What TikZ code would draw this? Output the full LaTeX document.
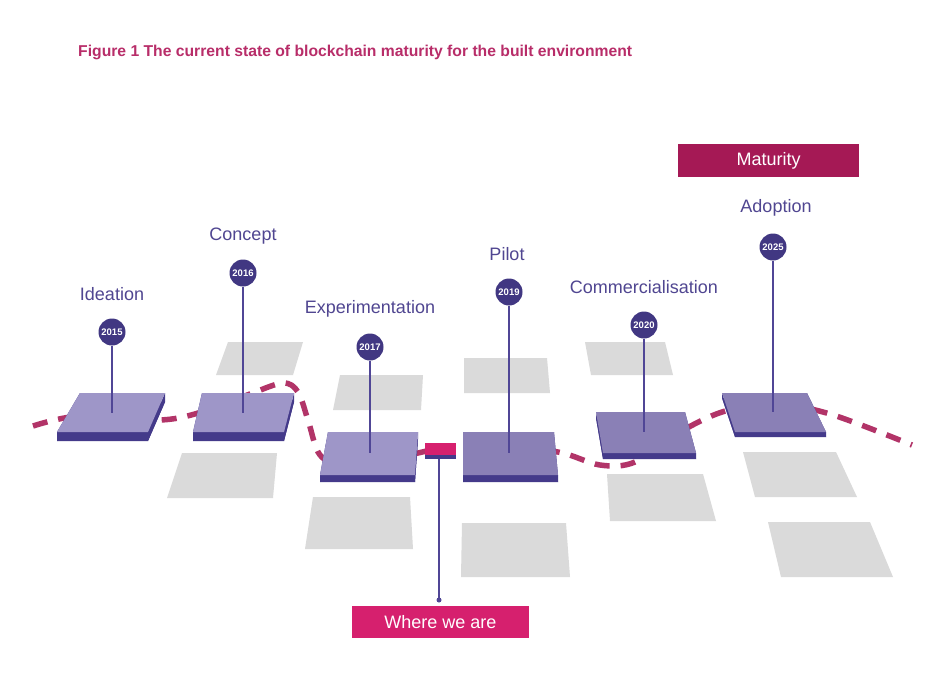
\documentclass[tikz,border=0pt]{standalone}
\usepackage{fontspec}
\setmainfont{Liberation Sans}
\definecolor{titlec}{RGB}{184,45,105}
\definecolor{labelc}{RGB}{80,70,145}
\definecolor{circc}{RGB}{65,55,130}
\definecolor{stemc}{RGB}{80,70,150}
\definecolor{ptopA}{RGB}{158,150,200}
\definecolor{ptopB}{RGB}{138,128,182}
\definecolor{pdark}{RGB}{68,58,138}
\definecolor{greyc}{RGB}{218,218,218}
\definecolor{curvec}{RGB}{178,52,104}
\definecolor{pinkc}{RGB}{214,32,110}
\definecolor{matc}{RGB}{165,25,85}
\newcommand{\myplat}[8]{%
  \fill[pdark] (#1,{#3+#7}) -- (#2,{#3+#7}) -- (#5,{#6+#7}) -- (#4,{#6+#7}) -- cycle;
  \fill[pdark] (#2,#3) -- (#2,{#3+#7}) -- (#5,{#6+#7}) -- (#5,#6) -- cycle;
  \fill[pdark] (#1,#3) -- (#1,{#3+#7}) -- (#4,{#6+#7}) -- (#4,#6) -- cycle;
  \fill[pdark] (#4,#6) -- (#5,#6) -- (#5,{#6+#7}) -- (#4,{#6+#7}) -- cycle;
  \fill[#8] (#1,#3) -- (#2,#3) -- (#5,#6) -- (#4,#6) -- cycle;}
\newcommand{\mygrey}[6]{\fill[greyc] (#1,#3) -- (#2,#3) -- (#5,#6) -- (#4,#6) -- cycle;}
\tikzset{
  stage/.style={text=labelc, font=\fontsize{18}{20}\selectfont, inner sep=0pt},
  year/.style={circle, fill=circc, minimum size=27pt, inner sep=0pt, text=white, font=\bfseries\fontsize{9.5}{10}\selectfont},
  stem/.style={draw=stemc, line width=1.5pt},
}
\begin{document}
\begin{tikzpicture}[x=1pt,y=-1pt]
\useasboundingbox (0,0) rectangle (931,681);
\fill[white] (0,0) rectangle (931,681);
% title
\node[anchor=west, text=titlec, inner sep=0pt, font=\bfseries\fontsize{15.7}{17}\selectfont] (title) at (78,52)
  {Figure 1 The current state of blockchain maturity for the built environment};
% grey tiles
\mygrey{228}{303}{342}{216}{293}{375}
\mygrey{182}{277}{453}{167}{273}{498}
\mygrey{340}{423}{375}{333}{421}{410}
\mygrey{313}{410}{497}{305}{413}{549}
\mygrey{464}{547}{358}{464}{550}{393}
\mygrey{462}{566}{523}{461}{570}{577}
\mygrey{585}{665}{342}{591}{673}{375}
\mygrey{607}{703}{474}{610}{716}{521}
\mygrey{743}{836}{452}{755}{857}{497}
\mygrey{768}{870}{522}{781}{893}{577}
% dashed curve
\draw[curvec, line width=5.5pt, dash pattern=on 15pt off 11pt]
  plot[smooth, tension=0.55] coordinates {(33,426) (80,416) (160,420) (205,411) (250,394) (283,383) (298,392) (308,420) (320,455) (345,465) (400,457) (440,449) (500,448) (558,452) (600,465) (635,462) (680,432) (722,412) (770,403) (830,414) (912,445)};
% platforms
\myplat{80}{165}{393}{57}{148}{432}{9}{ptopA}
\myplat{202}{294}{393}{193}{284}{432}{9}{ptopA}
\myplat{328}{418}{432}{320}{415}{475}{7}{ptopA}
\myplat{463}{554}{432}{463}{558}{475}{7}{ptopB}
\myplat{596}{685}{412}{603}{696}{453}{6}{ptopB}
\myplat{722}{807}{393}{735}{826}{432}{5}{ptopB}
% where we are marker
\fill[pinkc] (425,443) rectangle (456,455);
\fill[pdark] (425,455) rectangle (456,459);
\coordinate (mk) at (439,459);
\coordinate (dot) at (439,600);
\draw[stem] (mk) -- (dot);
\fill[stemc] (dot) circle (2.5);
\fill[pinkc] (352,606) rectangle (529,638);
\node[text=white, font=\fontsize{18}{20}\selectfont, inner sep=0pt] (where) at (440.5,622) {Where we are};
% maturity
\fill[matc] (678,144) rectangle (859,177);
\node[text=white, font=\fontsize{18}{20}\selectfont, inner sep=0pt] (mat) at (768.5,160.5) {Maturity};
% stems and years
\coordinate (s1) at (112,413);
\coordinate (s2) at (243,413);
\coordinate (s3) at (370,453);
\coordinate (s4) at (509,453);
\coordinate (s5) at (644,432);
\coordinate (s6) at (773,412);
\node[year] (y1) at (112,332) {2015};
\node[year] (y2) at (243,273) {2016};
\node[year] (y3) at (370,347) {2017};
\node[year] (y4) at (509,292) {2019};
\node[year] (y5) at (644,325) {2020};
\node[year] (y6) at (773,247) {2025};
\draw[stem] (y1) -- (s1);
\draw[stem] (y2) -- (s2);
\draw[stem] (y3) -- (s3);
\draw[stem] (y4) -- (s4);
\draw[stem] (y5) -- (s5);
\draw[stem] (y6) -- (s6);
% stage labels
\node[stage] (l1) at (112,294) {Ideation};
\node[stage] (l2) at (243,236) {Concept};
\node[stage] (l3) at (370,309) {Experimentation};
\node[stage] (l4) at (507,254) {Pilot};
\node[stage] (l5) at (644,287) {Commercialisation};
\node[stage] (l6) at (776,208) {Adoption};
\end{tikzpicture}
\end{document}
